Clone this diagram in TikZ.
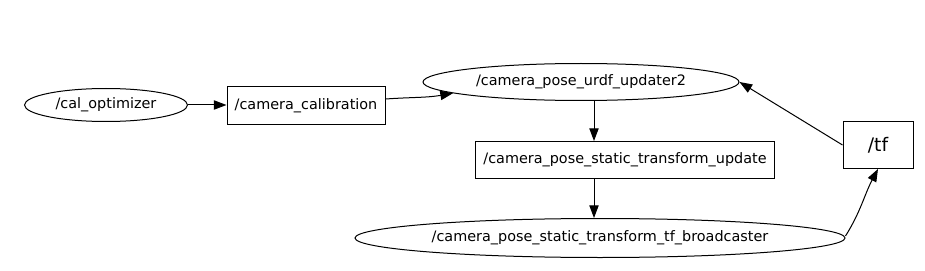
\documentclass[tikz,border=0pt]{standalone}
\usepackage{fontspec}
\setmainfont{DejaVu Sans}
\usetikzlibrary{arrows.meta,shapes.geometric}

\begin{document}
\begin{tikzpicture}[x=0.75pt,y=-0.75pt,>={Triangle[length=9.5pt,width=7pt]},line width=0.75pt,
  every node/.style={font=\fontsize{10.8}{13}\selectfont,inner sep=0pt},
  topic/.style={draw,rectangle},proc/.style={draw,ellipse}]
\useasboundingbox (0,0) rectangle (925,271);
% nodes
\node[proc,minimum width=122.25pt,minimum height=24.75pt] (calopt) at (106,105){/cal\_optimizer};
\node[topic,minimum width=118.5pt,minimum height=28.5pt] (calib) at (306,106){/camera\_calibration};
\node[proc,minimum width=237pt,minimum height=27.75pt] (urdf) at (581,82){/camera\_pose\_urdf\_updater2};
\node[topic,minimum width=224.25pt,minimum height=27.75pt] (upd) at (625,160){/camera\_pose\_static\_transform\_update};
\node[proc,minimum width=367.5pt,minimum height=29.25pt] (bcast) at (600,238){/camera\_pose\_static\_transform\_tf\_broadcaster};
\node[topic,minimum width=52.5pt,minimum height=35.25pt,font=\fontsize{14}{16}\selectfont] (tf) at (878,145){/tf};
% edges
\draw[->] (calopt.east)--(calopt.east -| calib.west);
\draw[->] ([yshift=5.25pt]calib.east) to[out=4,in=190] (urdf.185);
\draw[->] ([xshift=9.75pt]urdf.south)--([xshift=9.75pt]urdf.south |- upd.north);
\draw[->] ([xshift=-23.25pt]upd.south)--([xshift=-23.25pt]upd.south |- bcast.north);
\draw[->] ([yshift=1.5pt]bcast.east) to[out=58,in=-118] (tf.south);
\draw[->] (tf.west)--(urdf.east);
\end{tikzpicture}
\end{document}
